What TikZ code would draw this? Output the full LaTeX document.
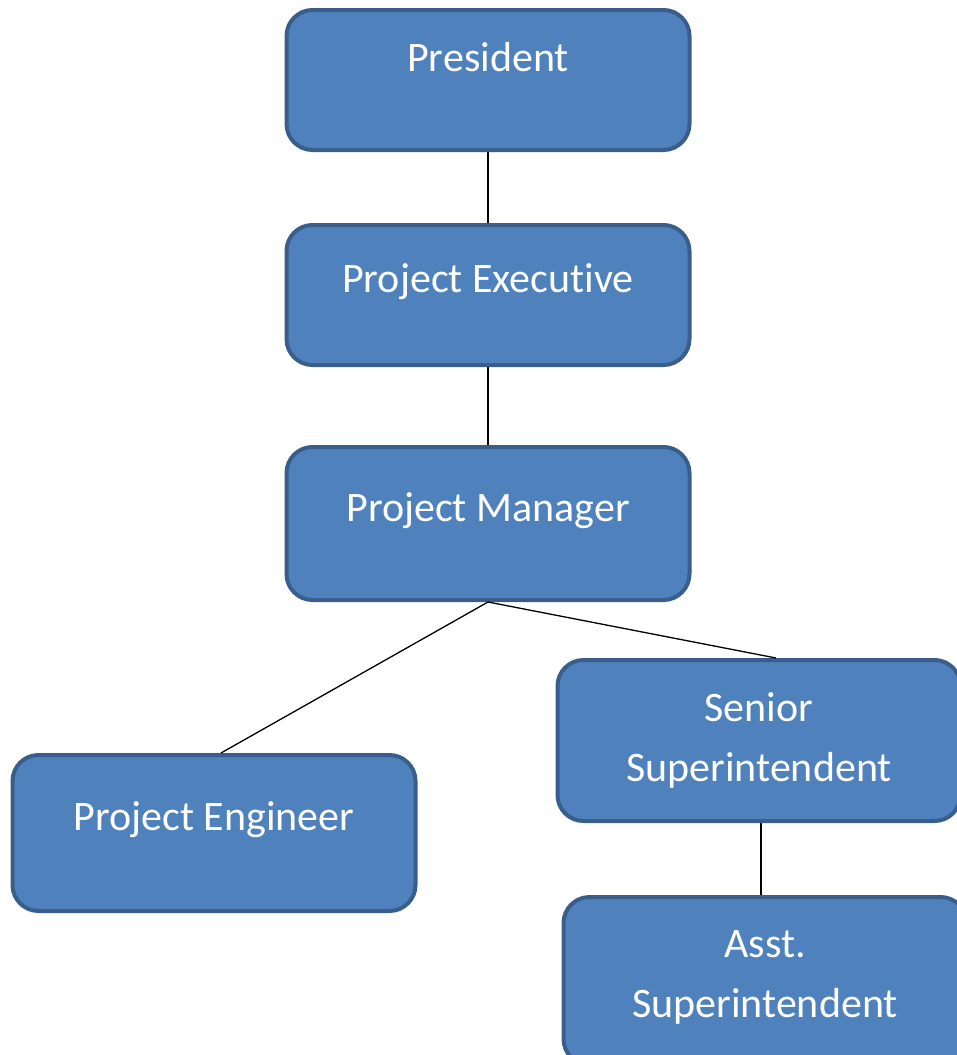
\documentclass[tikz,border=0pt]{standalone}
\usepackage{fontspec}
\setmainfont[RawFeature=-liga]{Carlito}
\usepackage{tikz}
\usetikzlibrary{positioning}
\definecolor{boxfill}{HTML}{4F81BD}
\definecolor{boxline}{HTML}{3A5E8C}

\begin{document}
\begin{tikzpicture}[x=1pt,y=1pt,
	main/.style={draw=boxline,fill=boxfill,line width=4pt,rounded corners=26pt,
		text=white,inner sep=0pt,minimum width=403pt,align=center,
		font={\fontsize{42pt}{60pt}\selectfont}},
	link/.style={draw=black,line width=1.3pt}]
	\useasboundingbox (0,0) rectangle (957,-1055);
	\node[main,text height=61pt,text depth=79pt] (1) at (488,-80) {President};
	\node[main,text height=67pt,text depth=73pt] (2) [below=71pt of 1] {Project Executive};
	\node[main,text height=74pt,text depth=79pt] (3) [below=78pt of 2] {Project Manager};
	\node[main,text height=75pt,text depth=81pt] (4) [below left=151pt and -133pt of 3] {Project Engineer};
	\node[main,minimum height=161pt] (5) [below right=56pt and -136pt of 3] {Senior\\Superintendent};
	\node[main,text height=120pt,text depth=48pt] (6) [below=72pt of 5,xshift=6pt] {Asst.\\Superintendent};
	\draw[link] (1) -- (2);
	\draw[link] (2) -- (3);
	\draw[link] (3.south) -- ([xshift=7pt]4.north);
	\draw[link] (3.south) -- ([xshift=17pt]5.north);
	\draw[link] ([xshift=2pt]5.south) -- ([xshift=2pt]5.south |- 6.north);
\end{tikzpicture}
\end{document}
